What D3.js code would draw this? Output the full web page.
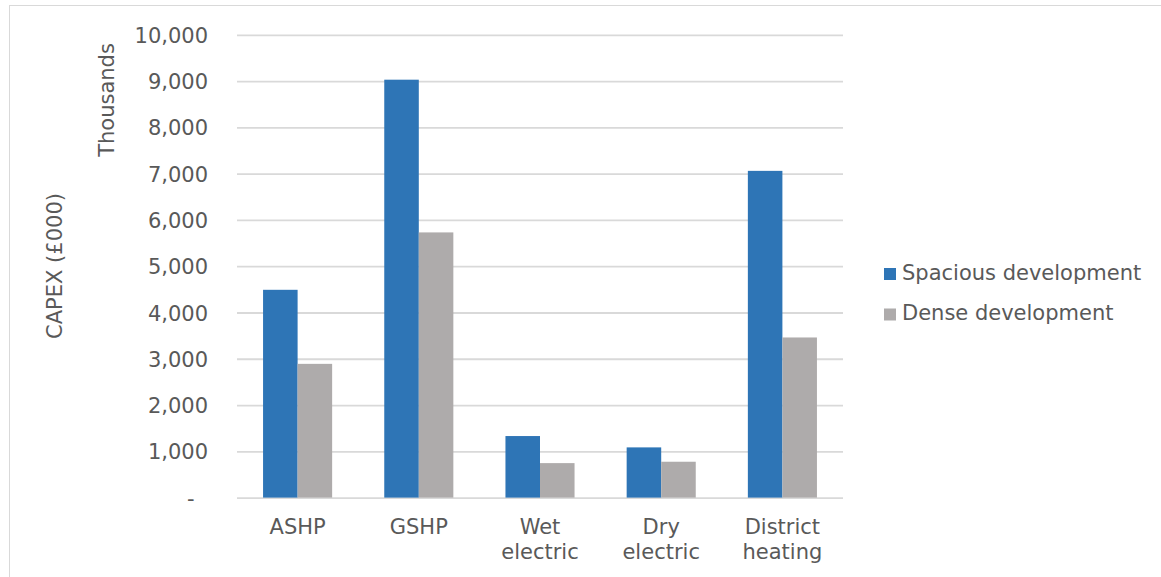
<!DOCTYPE html>
<html>
<head>
<meta charset="utf-8">
<script src="https://cdn.jsdelivr.net/npm/d3@7"></script>
<style>
  html, body { margin: 0; padding: 0; background: #ffffff; }
  svg { display: block; }
  text { font-family: "DejaVu Sans", Verdana, sans-serif; fill: #595959; }
</style>
</head>
<body>
<svg id="chart" width="1161" height="577"></svg>
<script>
// Heating options and their capital cost (£000, thousands)
const categories = ["ASHP", "GSHP", "Wet electric", "Dry electric", "District heating"];
const categoryLines = [["ASHP"], ["GSHP"], ["Wet", "electric"], ["Dry", "electric"], ["District", "heating"]];
const seriesNames = ["Spacious development", "Dense development"];
const spacious = [4490, 9030, 1330, 1085, 7060];
const dense = [2890, 5730, 745, 775, 3460];
const yTicks = [0, 1000, 2000, 3000, 4000, 5000, 6000, 7000, 8000, 9000, 10000];

const colors = ["#2E75B6", "#AEABAB"];
const textColor = "#595959";
const gridColor = "#D9D9D9";
const fontSize = 21;

const svg = d3.select("#chart");

// chart frame
svg.append("rect")
  .attr("x", 9.5).attr("y", 5.5)
  .attr("width", 1200).attr("height", 700)
  .attr("fill", "none")
  .attr("stroke", gridColor)
  .attr("stroke-width", 1);

const plot = { left: 237, right: 843, top: 34.8, bottom: 497.6 };

const x = d3.scaleBand()
  .domain(categories)
  .range([plot.left, plot.right])
  .paddingInner(0.43)
  .paddingOuter(0.215);

const xSub = d3.scaleBand()
  .domain(seriesNames)
  .range([0, x.bandwidth()]);

const y = d3.scaleLinear()
  .domain([0, 10000])
  .range([plot.bottom, plot.top]);

const fmt = d3.format(",");

// gridlines and value labels
const yAxis = d3.axisLeft(y)
  .tickValues(yTicks)
  .tickSize(plot.left - plot.right)
  .tickPadding(29)
  .tickFormat(d => d === 0 ? "-\u00A0\u00A0" : fmt(d));

const yg = svg.append("g")
  .attr("transform", `translate(${plot.left},0)`)
  .call(yAxis);
yg.select(".domain").remove();
yg.selectAll(".tick line")
  .attr("stroke", gridColor)
  .attr("stroke-width", 1.8)
  .attr("x1", 0)
  .attr("x2", plot.right - plot.left);
yg.selectAll(".tick text")
  .attr("fill", textColor)
  .attr("font-size", fontSize)
  .attr("font-family", "DejaVu Sans, Verdana, sans-serif")
  .attr("x", -29)
  .attr("dy", "0.36em");

// bars
const rows = categories.map((c, i) => ({ cat: c, values: [spacious[i], dense[i]] }));
const groups = svg.append("g")
  .selectAll("g")
  .data(rows)
  .join("g")
  .attr("transform", d => `translate(${x(d.cat)},0)`);

groups.selectAll("rect")
  .data(d => d.values.map((v, j) => ({ name: seriesNames[j], value: v, j })))
  .join("rect")
  .attr("x", d => xSub(d.name))
  .attr("width", xSub.bandwidth())
  .attr("y", d => y(d.value))
  .attr("height", d => y(0) - y(d.value))
  .attr("fill", d => colors[d.j]);

// category labels
const xg = svg.append("g");
categories.forEach((c, i) => {
  const t = xg.append("text")
    .attr("x", x(c) + x.bandwidth() / 2)
    .attr("y", 534)
    .attr("text-anchor", "middle")
    .attr("font-size", fontSize);
  categoryLines[i].forEach((line, k) => {
    t.append("tspan")
      .attr("x", x(c) + x.bandwidth() / 2)
      .attr("dy", k === 0 ? 0 : 25)
      .text(line);
  });
});

// axis titles
svg.append("text")
  .attr("transform", "translate(114,100) rotate(-90)")
  .attr("text-anchor", "middle")
  .attr("font-size", fontSize)
  .text("Thousands");

svg.append("text")
  .attr("transform", "translate(62,266) rotate(-90)")
  .attr("text-anchor", "middle")
  .attr("font-size", fontSize)
  .text("CAPEX (£000)");

// legend
const legend = svg.append("g")
  .selectAll("g")
  .data(seriesNames)
  .join("g")
  .attr("transform", (d, i) => `translate(884,${268 + i * 40.5})`);
legend.append("rect")
  .attr("width", 12).attr("height", 12)
  .attr("fill", (d, i) => colors[i]);
legend.append("text")
  .attr("x", 18)
  .attr("y", 11.5)
  .attr("font-size", fontSize)
  .text(d => d);
</script>
</body>
</html>
